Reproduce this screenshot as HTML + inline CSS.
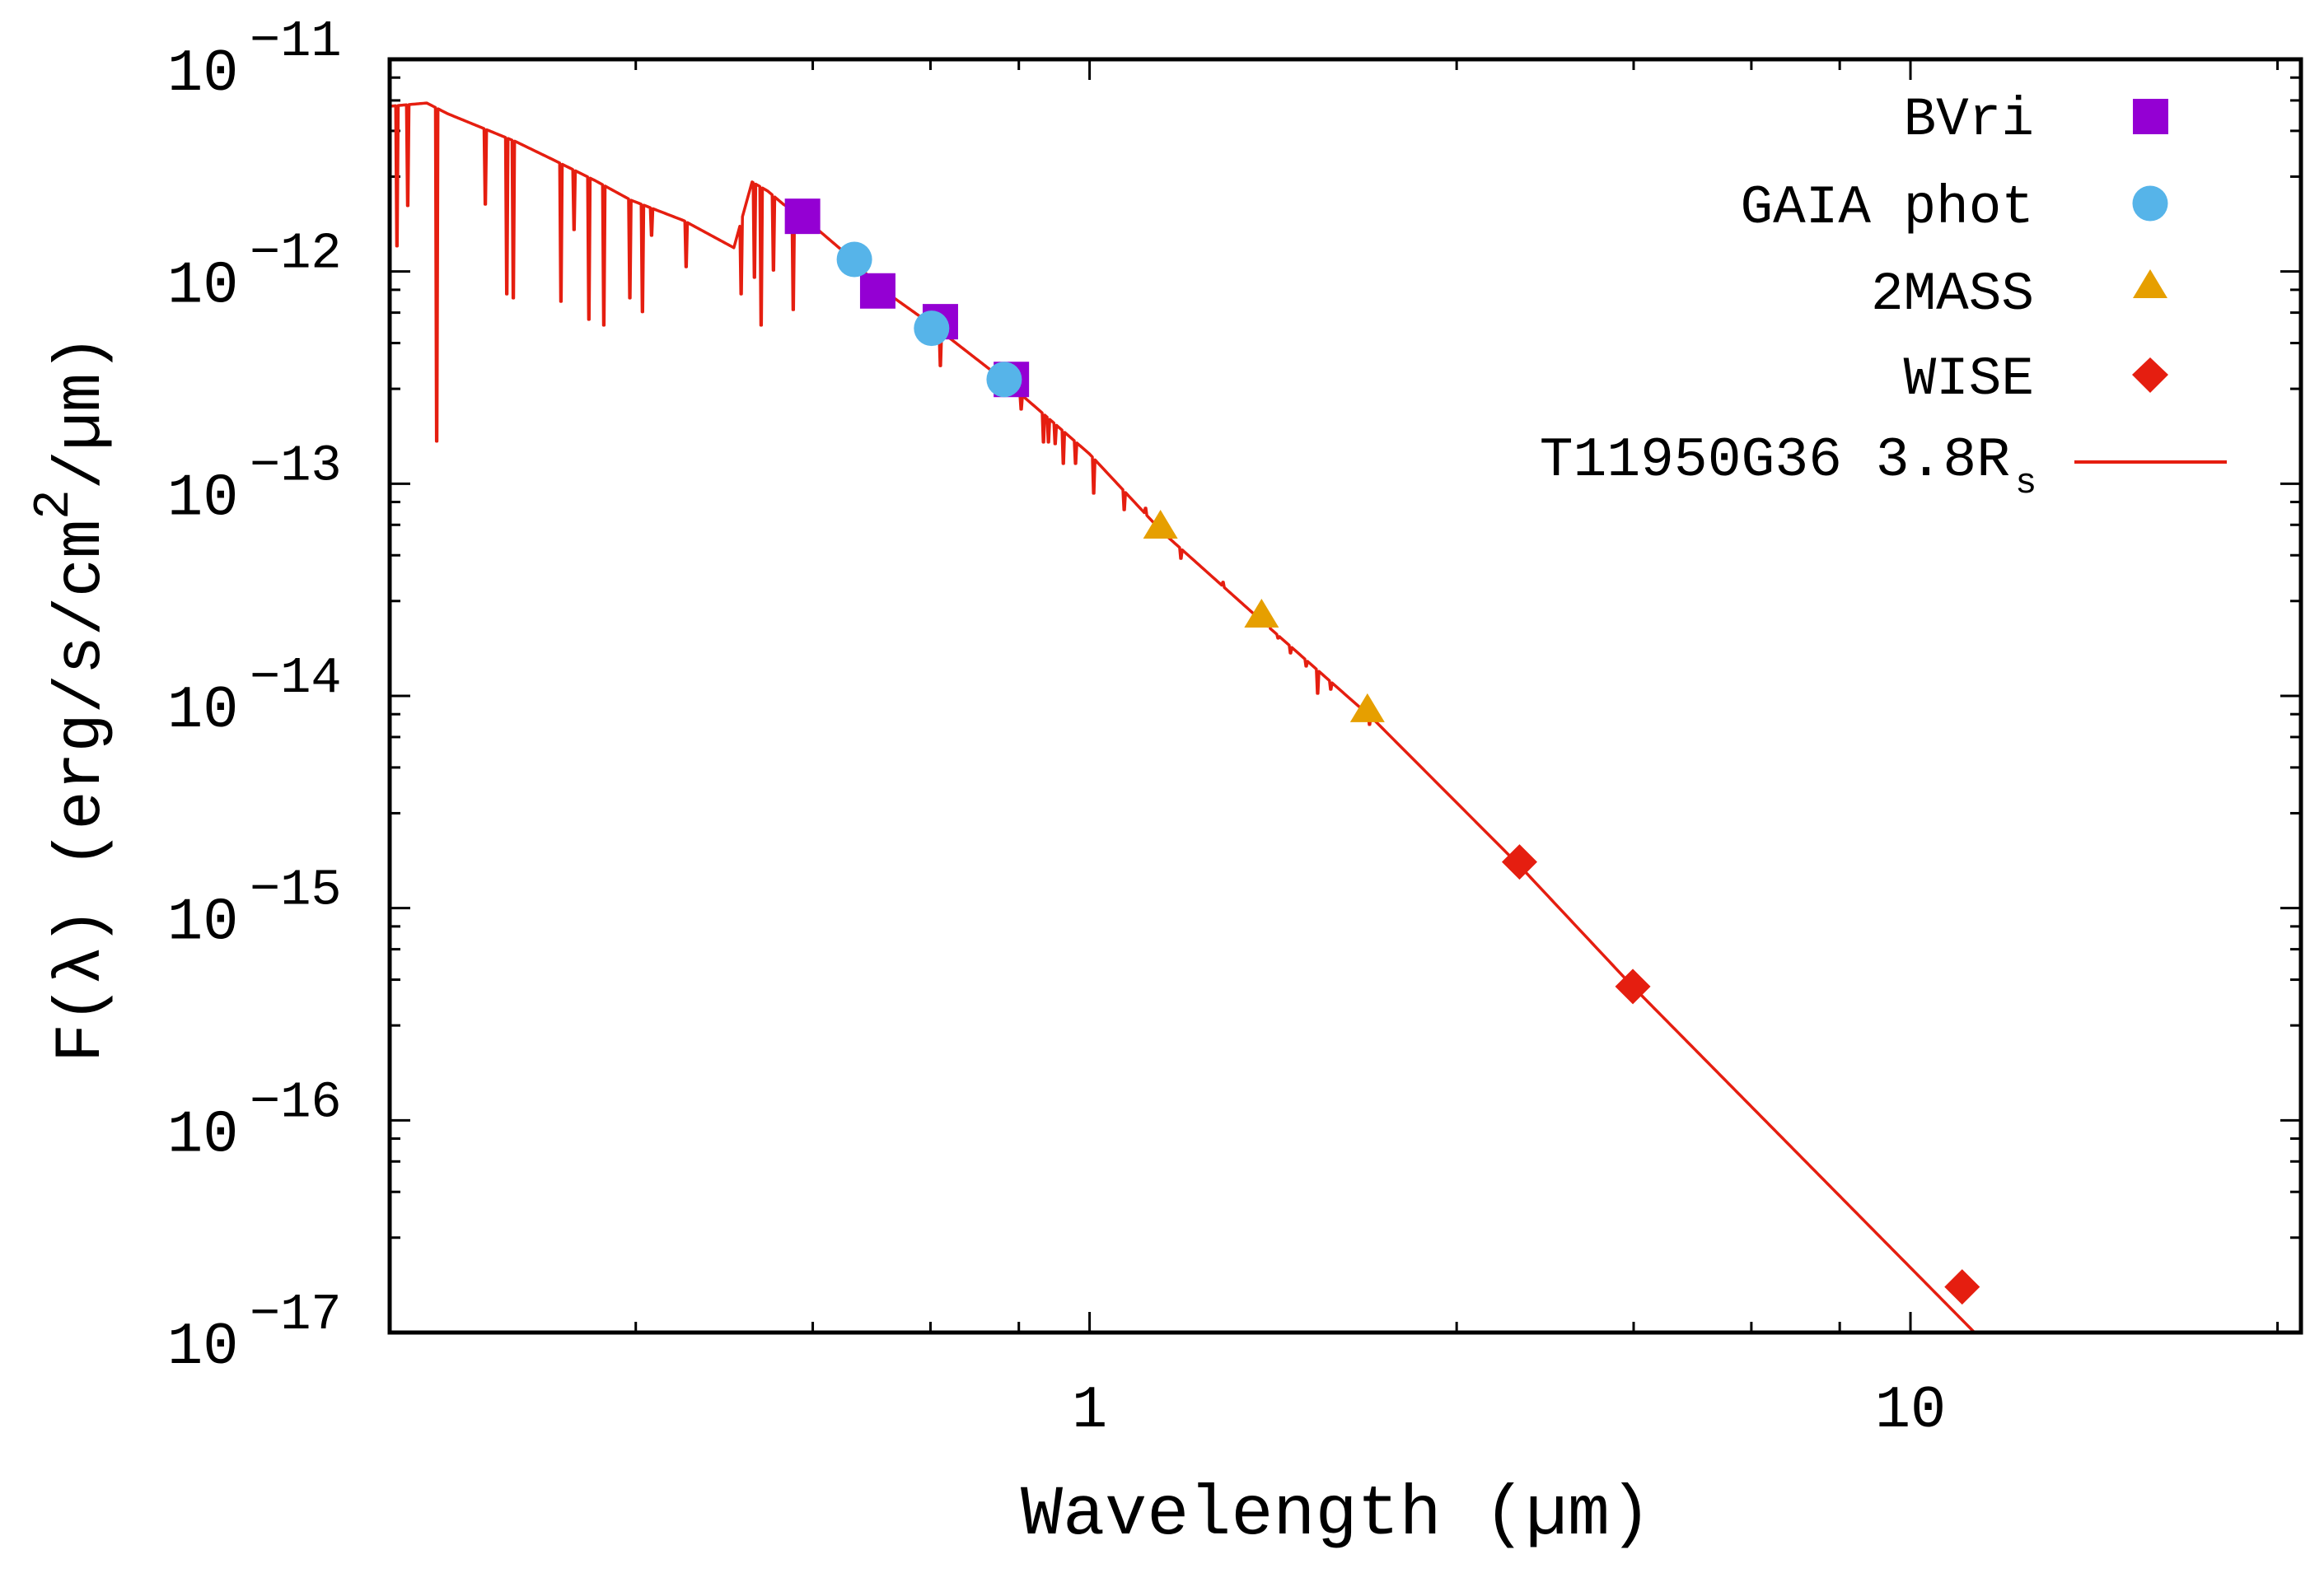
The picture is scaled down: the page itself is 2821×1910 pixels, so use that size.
<!DOCTYPE html>
<html><head><meta charset="utf-8"><style>
html,body{margin:0;padding:0;background:#fff;width:2821px;height:1910px;overflow:hidden;}
svg{display:block;}
text{font-family:"Liberation Mono","DejaVu Sans Mono",monospace;fill:#000;}
</style></head><body>
<svg id="chart" width="2821" height="1910" viewBox="0 0 2821 1910" xmlns="http://www.w3.org/2000/svg">
<defs><clipPath id="plotclip"><rect x="473" y="72" width="2320" height="1546"/></clipPath></defs>
<g id="ticks"></g>
<g id="ylabels"></g>
<g id="xlabels"></g>
<g id="model" clip-path="url(#plotclip)"></g>
<g id="points"></g>
<rect x="473" y="72" width="2320" height="1546" fill="none" stroke="#000" stroke-width="5"/>
<text x="1622" y="1862" font-size="85" text-anchor="middle" textLength="766" lengthAdjust="spacingAndGlyphs">Wavelength (µm)</text>
<text transform="translate(120,848) rotate(-90)" font-size="80" text-anchor="middle" textLength="884" lengthAdjust="spacingAndGlyphs">F(λ) (erg/s/cm<tspan dy="-38" font-size="62">2</tspan><tspan dy="38">/µm)</tspan></text>
<g id="legend">
<text x="2469" y="163" font-size="66" text-anchor="end">BVri</text>
<text x="2469" y="270" font-size="66" text-anchor="end">GAIA phot</text>
<text x="2469" y="375" font-size="66" text-anchor="end">2MASS</text>
<text x="2469" y="478" font-size="66" text-anchor="end">WISE</text>
<text x="2440" y="577" font-size="68" text-anchor="end">T11950G36 3.8R</text>
<text x="2446" y="598" font-size="44">s</text>
<rect x="2589" y="120" width="43" height="43" fill="#9400d3"/>
<circle cx="2610" cy="247" r="21.5" fill="#56b4e9"/>
<polygon points="2610,327 2631,362 2589,362" fill="#e69f00"/>
<polygon points="2610,434 2632,455 2610,477 2588,455" fill="#e51e10"/>
<line x1="2518" y1="561" x2="2703" y2="561" stroke="#e51e10" stroke-width="4"/>
</g>
</svg>
<script>
// ---- data ----
const bvriLambda = [0.447, 0.552, 0.658, 0.803];
const bvriFlux = [1.82e-12, 8.1e-13, 5.8e-13, 3.1e-13];
const gaiaLambda = [0.517, 0.642, 0.787];
const gaiaFlux = [1.14e-12, 5.4e-13, 3.1e-13];
const twomassLambda = [1.22, 1.62, 2.18];
const twomassFlux = [6.3e-14, 2.4e-14, 8.6e-15];
const wiseLambda = [3.34, 4.59, 11.56];
const wiseFlux = [1.65e-15, 4.27e-16, 1.64e-17];
const contLambda = [0.1407,0.1558,0.1651,0.2,0.222,0.2494,0.2763,0.3203,0.3687,0.388,0.4055,0.4236,0.447,0.517,0.552,0.658,0.803,1.0,1.228,1.646,2.217,3.34,4.59,11.97,30];
const contLogFlux = [-11.221,-11.206,-11.256,-11.388,-11.473,-11.570,-11.664,-11.760,-11.888,-11.578,-11.621,-11.683,-11.741,-11.95,-12.07,-12.28,-12.54,-12.86,-13.23,-13.67,-14.11,-14.80,-15.37,-17.0,-18.54];
const lineLambda = [0.1433,0.1477,0.1602,0.1836,0.195,0.1986,0.227,0.2355,0.2455,0.256,0.2754,0.2853,0.2927,0.3225,0.3763,0.3906,0.398,0.412,0.4355,0.658,0.8254,0.8787,0.891,0.908,0.929,0.9614,1.0116,1.102,1.17,1.292,1.454,1.624,1.654,1.697,1.757,1.836,1.896,1.967,2.193];
const lineLogFlux = [-11.88,-11.69,-12.80,-11.683,-12.106,-12.125,-12.141,-11.803,-12.226,-12.253,-12.125,-12.19,-11.83,-11.978,-12.106,-12.028,-12.253,-11.994,-12.18,-12.444,-12.649,-12.804,-12.804,-12.812,-12.905,-12.905,-13.045,-13.123,-13.115,-13.352,-13.464,-13.65,-13.65,-13.728,-13.798,-13.86,-13.988,-13.969,-14.135];
const yTickExps = [-11,-12,-13,-14,-15,-16,-17];
const xTickValues = [1, 10];
const xTickLabels = ["1", "10"];

// ---- axes ----
const X0 = 473, X1 = 2793, Y0 = 72, Y1 = 1618;
const XMIN = 0.1404, XMAX = 29.9, YMAXE = -11, YMINE = -17;
function xs(l){ return X0 + (Math.log10(l) - Math.log10(XMIN)) / (Math.log10(XMAX) - Math.log10(XMIN)) * (X1 - X0); }
function ysLog(lf){ return Y0 + (YMAXE - lf) / (YMAXE - YMINE) * (Y1 - Y0); }
function ys(f){ return ysLog(Math.log10(f)); }
const NS = "http://www.w3.org/2000/svg";
function mk(tag, parent){ const e = document.createElementNS(NS, tag); parent.appendChild(e); return e; }

// ticks
const tg = document.getElementById('ticks');
function tickLine(x1,y1,x2,y2,name){
  const t = mk('line', tg);
  t.setAttribute('x1',x1); t.setAttribute('y1',y1); t.setAttribute('x2',x2); t.setAttribute('y2',y2);
  t.setAttribute('stroke','#000'); t.setAttribute('stroke-width','3');
  
  
}
for (let e = -17; e <= -12; e++) {
  for (let k = 1; k <= 4; k++) {
    const v = (0.1 + 0.18*k) * Math.pow(10, e+1);
    const y = ys(v);
    tickLine(X0, y, X0+13, y, 'y-minor-tick');
    tickLine(X1, y, X1-13, y, 'y-minor-tick');
  }
}
yTickExps.forEach(e => {
  const y = ysLog(e);
  tickLine(X0, y, X0+25, y, 'y-major-tick');
  tickLine(X1, y, X1-25, y, 'y-major-tick');
});
for (let d = -1; d <= 1; d++) {
  for (let k = 0; k <= 4; k++) {
    const base = Math.pow(10, d);
    const val = (1 + 1.8*k) * base;
    const isMajor = k === 0;
    if (val < XMIN || val > XMAX) continue;
    const x = xs(val);
    const len = isMajor ? 25 : 13;
    tickLine(x, Y1, x, Y1-len, isMajor ? 'x-major-tick' : 'x-minor-tick');
    tickLine(x, Y0, x, Y0+len, isMajor ? 'x-major-tick' : 'x-minor-tick');
  }
}

// y labels
const yl = document.getElementById('ylabels');
yTickExps.forEach(e => {
  const y = ysLog(e);
  const t = mk('text', yl);
  
  
  t.setAttribute('x', 203); t.setAttribute('y', y + 37); t.setAttribute('font-size', '72');
  t.textContent = '10';
  const s = mk('text', yl);
  
  
  s.setAttribute('x', 303); s.setAttribute('y', y - 5); s.setAttribute('font-size', '62');
  s.textContent = '\u2212' + String(-e);
});
// x labels
const xl = document.getElementById('xlabels');
xTickValues.forEach((v, i) => {
  const t = mk('text', xl);
  
  
  t.setAttribute('x', xs(v)); t.setAttribute('y', 1732); t.setAttribute('font-size', '72'); t.setAttribute('text-anchor', 'middle');
  t.textContent = xTickLabels[i];
});

// model spectrum
function contAt(l){
  const lx = Math.log10(l);
  for (let i = 0; i < contLambda.length - 1; i++) {
    const a = Math.log10(contLambda[i]), b = Math.log10(contLambda[i+1]);
    if (lx >= a && lx <= b) return contLogFlux[i] + (contLogFlux[i+1]-contLogFlux[i]) * (lx - a) / (b - a);
  }
  return lx < Math.log10(contLambda[0]) ? contLogFlux[0] : contLogFlux[contLogFlux.length-1];
}
function lamAt(x){ return Math.pow(10, Math.log10(XMIN) + (x - X0) / (X1 - X0) * (Math.log10(XMAX) - Math.log10(XMIN))); }
const pts = [];
for (let x = xs(contLambda[0]); x <= X1 + 2; x += 2) pts.push([x, ysLog(contAt(lamAt(x)))]);
contLambda.forEach((l, i) => pts.push([xs(l), ysLog(contLogFlux[i])]));
const dipRanges = [];
lineLambda.forEach((l) => { const x = xs(l); dipRanges.push([x-1.6, x+1.6]); });
let filtered = pts.filter(p => !dipRanges.some(r => p[0] > r[0] && p[0] < r[1]));
lineLambda.forEach((l, i) => {
  const x = xs(l);
  filtered.push([x-1.6, ysLog(contAt(lamAt(x-1.6)))]);
  filtered.push([x-0.4, ysLog(lineLogFlux[i])]);
  filtered.push([x+0.4, ysLog(lineLogFlux[i])]);
  filtered.push([x+1.6, ysLog(contAt(lamAt(x+1.6)))]);
});
filtered.sort((a, b) => a[0] - b[0]);
// stop the path shortly after it leaves the bottom of the plot
const drawn = [];
for (const p of filtered) { drawn.push(p); if (p[1] > Y1 + 4) break; }
const mp = mk('path', document.getElementById('model'));


mp.setAttribute('d', 'M' + drawn.map(p => p[0].toFixed(2) + ',' + p[1].toFixed(2)).join(' L'));
mp.setAttribute('fill', 'none'); mp.setAttribute('stroke', '#e51e10'); mp.setAttribute('stroke-width', '3.5'); mp.setAttribute('stroke-linejoin', 'round');

// points
const pg = document.getElementById('points');
bvriLambda.forEach((l, i) => {
  const r = mk('rect', pg);
  
  
  r.setAttribute('x', xs(l) - 21.5); r.setAttribute('y', ys(bvriFlux[i]) - 21.5);
  r.setAttribute('width', 43); r.setAttribute('height', 43); r.setAttribute('fill', '#9400d3');
});
gaiaLambda.forEach((l, i) => {
  const c = mk('circle', pg);
  
  
  c.setAttribute('cx', xs(l)); c.setAttribute('cy', ys(gaiaFlux[i])); c.setAttribute('r', 21.5); c.setAttribute('fill', '#56b4e9');
});
twomassLambda.forEach((l, i) => {
  const x = xs(l), y = ys(twomassFlux[i]);
  const p = mk('polygon', pg);
  
  
  p.setAttribute('points', `${x},${y-20} ${x+21},${y+15} ${x-21},${y+15}`); p.setAttribute('fill', '#e69f00');
});
wiseLambda.forEach((l, i) => {
  const x = xs(l), y = ys(wiseFlux[i]);
  const p = mk('polygon', pg);
  
  
  p.setAttribute('points', `${x},${y-21.5} ${x+21.5},${y} ${x},${y+21.5} ${x-21.5},${y}`); p.setAttribute('fill', '#e51e10');
});
</script>
</body></html>
